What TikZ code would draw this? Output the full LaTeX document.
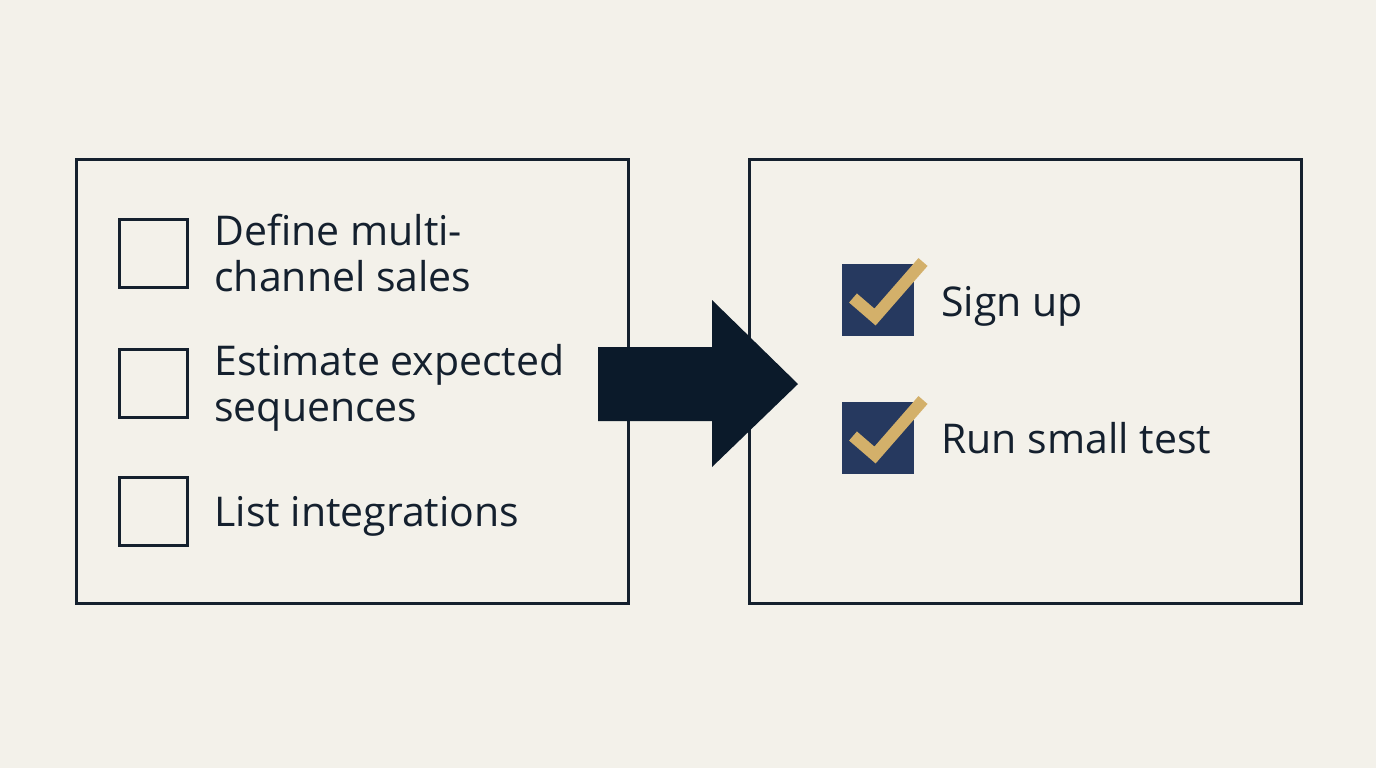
\documentclass[tikz,border=0pt]{standalone}
\usepackage{fontspec}
\setmainfont{Open Sans}
\definecolor{bgcream}{HTML}{F3F1EA}
\definecolor{inkdark}{HTML}{14202E}
\definecolor{arrowdark}{HTML}{0B1A2A}
\definecolor{boxnavy}{HTML}{26395F}
\definecolor{tickgold}{HTML}{D3B06A}
\tikzset{
  panel/.style={draw=inkdark, line width=1.5pt, inner sep=0pt,
    minimum width=276pt, minimum height=222pt},
  openbox/.style={draw=inkdark, line width=1.5pt, inner sep=0pt,
    minimum size=34pt},
  donebox/.style={fill=boxnavy, inner sep=0pt, minimum size=36pt},
  tick/.style={draw=tickgold, line width=6pt, line join=miter},
  item/.style={anchor=base west, inner sep=0pt, align=left, text=inkdark,
    font=\fontsize{20.5}{23}\selectfont},
}
\begin{document}
\begin{tikzpicture}[x=0.5pt, y=-0.5pt]
  \useasboundingbox[fill=bgcream] (0,0) rectangle (1376,768);

  % Panels
  \node[panel] (todo) at (352,381) {};
  \node[panel] (done) at (1025,381) {};

  % Left: open tasks
  \node[openbox] (box1) at (153,253.5) {};
  \node[openbox] (box2) at (153,383.5) {};
  \node[openbox] (box3) at (153,511.5) {};
  \node[item] (task1) at (214,291) {Define multi-\\channel sales};
  \node[item] (task2) at (214,421) {Estimate expected\\sequences};
  \node[item] (task3) at (214,526) {List integrations};

  % Big arrow in between
  \fill[arrowdark] (598,347) -- (712,347) -- (712,300) -- (798,384)
    -- (712,467) -- (712,421) -- (598,421) -- cycle;

  % Right: finished tasks
  \node[donebox] (chk1) at (878,300) {};
  \node[donebox] (chk2) at (878,438) {};
  \draw[tick, shift={(chk1)}] (-25,-2) -- (-3,17) -- (45,-38);
  \draw[tick, shift={(chk2)}] (-25,-2) -- (-3,17) -- (45,-38);
  \node[item] (step1) at (941,316) {Sign up};
  \node[item] (step2) at (941,453) {Run small test};
\end{tikzpicture}
\end{document}
